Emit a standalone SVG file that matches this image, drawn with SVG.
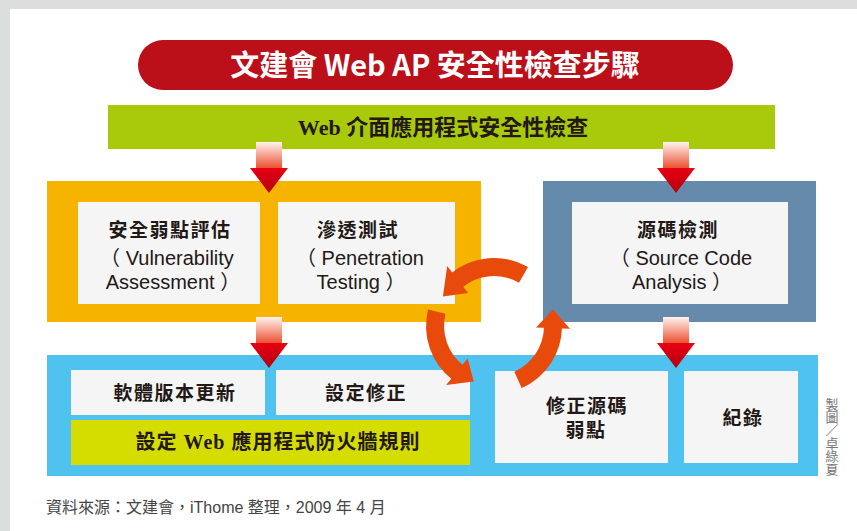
<svg xmlns="http://www.w3.org/2000/svg" width="857" height="531" viewBox="0 0 857 531">
<defs>
<linearGradient id="redArrow" x1="0" y1="0" x2="0" y2="1">
<stop offset="0" stop-color="#fff4f0"/>
<stop offset="0.5" stop-color="#ec5435"/>
<stop offset="0.52" stop-color="#e60012"/>
<stop offset="1" stop-color="#b3000f"/>
</linearGradient>
<style>
.box{fill:#f5f5f5}
.cjk{font-family:"Liberation Serif","Noto Sans CJK TC",serif;font-weight:bold;fill:#231815;text-anchor:middle}
.lat{font-family:"Liberation Sans","Noto Sans CJK TC",sans-serif;fill:#231815;text-anchor:middle;font-size:20px}
.red{fill:url(#redArrow)}
.cyc{fill:none;stroke:#e84a0c;stroke-width:18}
.head{fill:#e84a0c}
</style>
</defs>
<rect x="0" y="0" width="857" height="531" fill="#dcdedd"/>
<rect x="10" y="9" width="847" height="522" fill="#ffffff"/>

<g id="title">
<rect x="138" y="40" width="595" height="50" rx="25" fill="#bb0f19"/>
<text x="435" y="76" font-family="'Noto Sans CJK TC',sans-serif" font-weight="bold" font-size="29" fill="#ffffff" text-anchor="middle">文建會 Web AP 安全性檢查步驟</text>
</g>

<g id="web-check">
<rect x="108" y="105" width="667" height="44" fill="#a8ca0a"/>
<text class="cjk" x="443" y="135" font-size="22">Web 介面應用程式安全性檢查</text>
</g>

<g id="assessment-group">
<rect x="47" y="181" width="434" height="141" fill="#f6b400"/>
</g>
<g id="vulnerability-assessment">
<rect class="box" x="78" y="202" width="182" height="102"/>
<text class="cjk" x="170" y="237" font-size="19" letter-spacing="1.5">安全弱點評估</text>
<text class="lat" x="167" y="265">（ Vulnerability</text>
<text class="lat" x="173" y="289">Assessment ）</text>
</g>
<g id="penetration-testing">
<rect class="box" x="278" y="202" width="177" height="102"/>
<text class="cjk" x="358" y="237" font-size="19" letter-spacing="1.5">滲透測試</text>
<text class="lat" x="360" y="265">（ Penetration</text>
<text class="lat" x="361" y="289">Testing ）</text>
</g>

<g id="source-code-analysis">
<rect x="543" y="181" width="273" height="141" fill="#668aac"/>
<rect class="box" x="572" y="202" width="216" height="102"/>
<text class="cjk" x="678" y="237" font-size="19" letter-spacing="1.5">源碼檢測</text>
<text class="lat" x="681" y="265">（ Source Code</text>
<text class="lat" x="682" y="289">Analysis ）</text>
</g>

<g id="remediation-group">
<rect x="47" y="355" width="771" height="121" fill="#4fc2ef"/>
</g>
<g id="software-update">
<rect class="box" x="71" y="370" width="194" height="45"/>
<text class="cjk" x="175" y="400" font-size="19" letter-spacing="1.5">軟體版本更新</text>
</g>
<g id="config-fix">
<rect class="box" x="276" y="370" width="194" height="45"/>
<text class="cjk" x="366" y="400" font-size="19" letter-spacing="1.5">設定修正</text>
</g>
<g id="waf-rules">
<rect x="71" y="420" width="399" height="45" fill="#d5dd00"/>
<text class="cjk" x="278" y="449" font-size="20" letter-spacing="1">設定 Web 應用程式防火牆規則</text>
</g>
<g id="fix-source">
<rect class="box" x="495" y="371" width="173" height="92"/>
<text class="cjk" x="587" y="413" font-size="19" letter-spacing="1.5">修正源碼</text>
<text class="cjk" x="586" y="437" font-size="19" letter-spacing="1.5">弱點</text>
</g>
<g id="record">
<rect class="box" x="684" y="371" width="114" height="92"/>
<text class="cjk" x="743" y="425" font-size="19" letter-spacing="1.5">紀錄</text>
</g>

<g id="connectors">
<polygon class="red" points="256,142 282,142 282,168 288,168 269,193 250,168 256,168"/>
<polygon class="red" points="663,142 689,142 689,168 695,168 676,193 657,168 663,168"/>
<polygon class="red" points="256,317 282,317 282,343 288,343 269,368 250,343 256,343"/>
<polygon class="red" points="663,317 689,317 689,343 695,343 676,368 657,343 663,343"/>
<path class="cyc" d="M523.5,274.9 A59,59 0 0 0 456.1,280.8"/>
<polygon class="head" points="468.1,292.9 447.2,266.1 442.9,296.5"/>
<path class="cyc" d="M436.8,311.7 A59,59 0 0 0 458.2,372.8"/>
<polygon class="head" points="467.6,358.6 446.2,385.1 473.8,381.4"/>
<path class="cyc" d="M518,379.9 A59,59 0 0 0 553,326.9"/>
<polygon class="head" points="536,327.5 570,328.7 553,309.5"/>
</g>

<g id="credit">
<text x="832" y="398" style="writing-mode:vertical-rl" font-family="'Noto Sans CJK TC',sans-serif" font-size="13" fill="#777777">製圖／卓綠夏</text>
</g>
<g id="source">
<text x="46" y="513" font-family="'Liberation Sans','Noto Sans CJK TC',sans-serif" font-size="16" fill="#444444">資料來源：文建會，iThome 整理，2009 年 4 月</text>
</g>
</svg>
